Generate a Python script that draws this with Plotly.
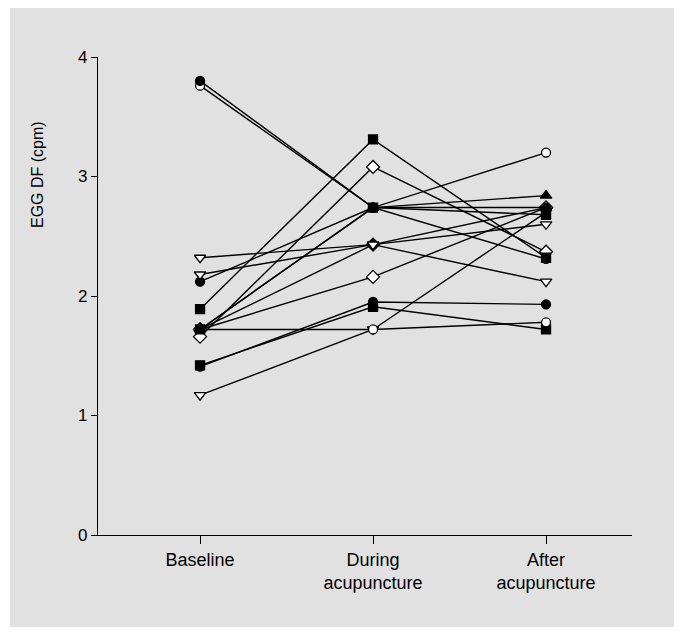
import plotly.graph_objects as go

categories = ["Baseline", "During<br>acupuncture", "After<br>acupuncture"]
x_pos = [0, 1, 2]

# subject series (EGG dominant frequency, cpm) with marker style
subjects = [
    ("S14", [1.72, 2.43, 2.74], "diamond"),
    ("S13", [1.42, 1.91, 1.72], "square"),
    ("S12", [1.41, 1.95, 1.93], "circle"),
    ("S11", [1.17, 1.72, 2.70], "triangle-down-open"),
    ("S10", [1.72, 1.72, 1.78], "circle-open"),
    ("S9", [1.72, 2.16, 2.74], "diamond-open"),
    ("S7", [1.66, 3.08, 2.37], "diamond-open"),
    ("S5", [2.12, 2.74, 2.31], "circle"),
    ("S3", [2.32, 2.43, 2.12], "triangle-down-open"),
    ("S4", [2.18, 2.43, 2.60], "triangle-down-open"),
    ("S6", [1.89, 3.31, 2.32], "square"),
    ("S15", [1.72, 2.74, 2.68], "square"),
    ("S8", [1.72, 2.74, 2.84], "triangle-up"),
    ("S2", [3.76, 2.74, 3.20], "circle-open"),
    ("S1", [3.80, 2.74, 2.74], "circle"),
]
y_ticks = [0, 1, 2, 3, 4]

fig = go.Figure()
for name, vals, sym in subjects:
    is_open = "open" in sym
    base = sym.replace("-open", "")
    size = 10 if ("triangle" in sym or "diamond" in sym) else 9
    fig.add_trace(go.Scatter(
        x=x_pos, y=vals, mode="lines+markers", name=name,
        line=dict(color="black", width=1.4),
        marker=dict(symbol=base, size=size, color="white" if is_open else "black",
                    line=dict(color="black", width=1.3)),
        cliponaxis=False, showlegend=False,
    ))

BG = "#e1e1e1"
OFF = 8  # page body margin
FW, FH = 682 - 2 * OFF, 635 - 2 * OFF
L = 98 - OFF
T = 57 - OFF
R = FW - (632 - OFF)
B = FH - (535 - OFF)
W, H = FW - L - R, FH - T - B

def px_x(px):
    return (px - OFF - L) / W

def px_y(py):
    return (535 - py) / H

shapes = [
    dict(type="rect", xref="paper", yref="paper", x0=-1, x1=px_x(10), y0=-1, y1=2,
         fillcolor="white", line=dict(width=0), layer="below"),
]

fig.update_layout(
    width=FW, height=FH,
    margin=dict(l=L, r=R, t=T, b=B),
    paper_bgcolor=BG, plot_bgcolor=BG,
    font=dict(family="Liberation Sans, Arial, sans-serif", color="black", size=16),
    shapes=shapes,
    xaxis=dict(range=[-0.59, 2.497], tickvals=x_pos, ticktext=categories,
               showgrid=False, zeroline=False, showline=True, linecolor="black", linewidth=1.2,
               ticks="outside", ticklen=8, tickcolor="black", tickwidth=1,
               tickfont=dict(size=18)),
    yaxis=dict(range=[0, 4], tickvals=y_ticks, showgrid=False, zeroline=False,
               showline=True, linecolor="black", linewidth=1.2,
               ticks="outside", ticklen=6, tickcolor="black", tickwidth=1,
               tickfont=dict(size=17)),
    annotations=[dict(text="EGG DF (cpm)", xref="paper", yref="paper",
                      x=px_x(37), y=px_y(175), textangle=-90, showarrow=False,
                      font=dict(size=16), xanchor="center", yanchor="middle")],
)

fig.write_html("out.html")
